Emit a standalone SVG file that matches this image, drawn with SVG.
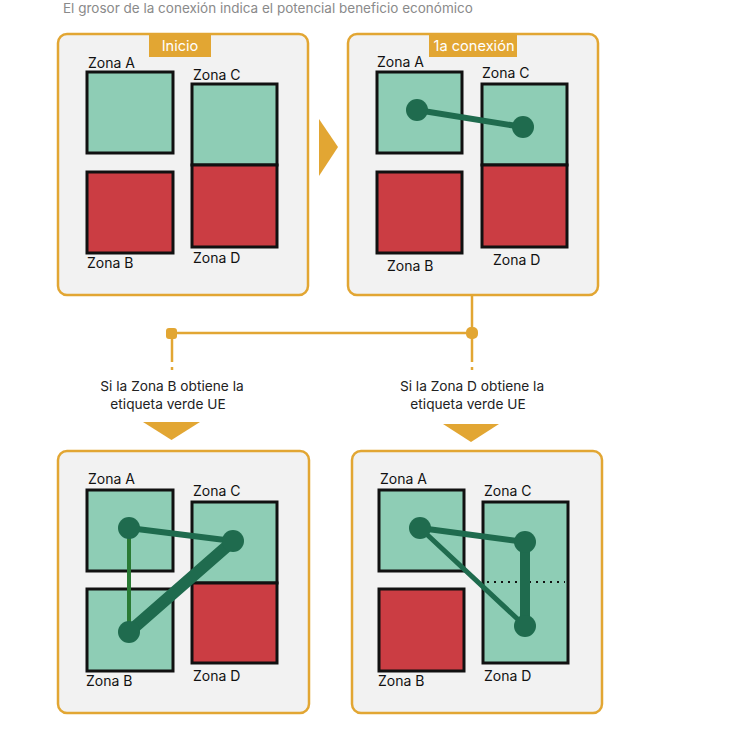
<svg xmlns="http://www.w3.org/2000/svg" width="730" height="730" viewBox="0 0 730 730">
<style>
text{font-family:Inter,"Noto Sans","Liberation Sans",sans-serif}
.title{font-size:13.5px;fill:#8a8a8a}
.panel{fill:#f2f2f2;stroke:#e2a633;stroke-width:2.5}
.tag{fill:#e2a633}
.tagt{font-size:14.6px;fill:#fff;text-anchor:middle}
.g{fill:#8ecdb5;stroke:#111;stroke-width:3}
.r{fill:#cb3d43;stroke:#111;stroke-width:3}
.zl{font-size:14px;fill:#111}
.cap{font-size:13.7px;fill:#222;text-anchor:middle}
.conn{stroke:#1f6b4e;stroke-linecap:round;fill:none}
.nd{fill:#1f6b4e}
.or{stroke:#e2a633;stroke-width:2.5;fill:none}
.orf{fill:#e2a633}
</style>
<rect width="730" height="730" fill="#fff"/>
<text class="title" x="63" y="13">El grosor de la conexión indica el potencial beneficio económico</text>

<g id="panel-inicio">
<rect class="panel" x="58" y="34" width="250" height="261" rx="9"/>
<rect class="tag" x="149" y="34" width="62" height="23"/>
<text class="tagt" x="180" y="51">Inicio</text>
<rect class="g" x="87" y="72" width="86" height="81"/>
<rect class="g" x="192" y="84" width="85" height="81"/>
<rect class="r" x="192" y="165" width="85" height="82"/>
<rect class="r" x="87" y="172" width="86" height="81"/>
<text class="zl" x="88" y="68">Zona A</text>
<text class="zl" x="193" y="80">Zona C</text>
<text class="zl" x="87" y="268">Zona B</text>
<text class="zl" x="193" y="263">Zona D</text>
</g>

<g id="arrow-right">
<polygon class="orf" points="319,119 338,147 319,176"/>
</g>

<g id="panel-1a">
<rect class="panel" x="348" y="34" width="250" height="261" rx="9"/>
<rect class="tag" x="429" y="34" width="88" height="23"/>
<text class="tagt" x="474" y="51">1a conexión</text>
<rect class="g" x="377" y="72" width="85" height="81"/>
<rect class="g" x="482" y="84" width="85" height="81"/>
<rect class="r" x="482" y="165" width="85" height="82"/>
<rect class="r" x="377" y="172" width="85" height="81"/>
<text class="zl" x="377" y="67">Zona A</text>
<text class="zl" x="482" y="78">Zona C</text>
<text class="zl" x="387" y="271">Zona B</text>
<text class="zl" x="493" y="265">Zona D</text>
<line class="conn" x1="417" y1="110" x2="523" y2="127" stroke-width="6"/>
<circle class="nd" cx="417" cy="110" r="11"/>
<circle class="nd" cx="523" cy="127" r="11"/>
</g>

<g id="connectors">
<line class="or" x1="472" y1="295" x2="472" y2="362"/>
<line class="or" x1="472" y1="367" x2="472" y2="370"/>
<line class="or" x1="172" y1="333" x2="472" y2="333"/>
<line class="or" x1="172" y1="333" x2="172" y2="362"/>
<line class="or" x1="172" y1="367" x2="172" y2="370"/>
<rect class="orf" x="166" y="328" width="11" height="11" rx="3"/>
<rect class="orf" x="466" y="327" width="12" height="12" rx="5"/>
</g>

<g id="caption-b">
<text class="cap" x="172" y="391">Si la Zona B obtiene la</text>
<text class="cap" x="168" y="409">etiqueta verde UE</text>
<polygon class="orf" points="143,422 200,422 171.5,440"/>
</g>

<g id="caption-d">
<text class="cap" x="472" y="391">Si la Zona D obtiene la</text>
<text class="cap" x="468" y="409">etiqueta verde UE</text>
<polygon class="orf" points="443,424 499,424 471,442"/>
</g>

<g id="panel-b">
<rect class="panel" x="58" y="451" width="251" height="262" rx="9"/>
<rect class="g" x="87" y="490" width="86" height="81"/>
<rect class="g" x="192" y="502" width="85" height="81"/>
<rect class="r" x="192" y="583" width="85" height="80"/>
<rect class="g" x="87" y="589" width="86" height="82"/>
<text class="zl" x="88" y="484">Zona A</text>
<text class="zl" x="193" y="496">Zona C</text>
<text class="zl" x="86" y="686">Zona B</text>
<text class="zl" x="193" y="681">Zona D</text>
<line class="conn" x1="129" y1="528" x2="233" y2="541" stroke-width="6"/>
<line x1="129" y1="528" x2="129" y2="632" stroke="#2a7a34" stroke-width="4"/>
<line class="conn" x1="129" y1="632" x2="233" y2="541" stroke-width="12"/>
<circle class="nd" cx="129" cy="528" r="11"/>
<circle class="nd" cx="233" cy="541" r="11"/>
<circle class="nd" cx="129" cy="632" r="11"/>
</g>

<g id="panel-d">
<rect class="panel" x="352" y="451" width="250" height="262" rx="9"/>
<rect class="g" x="379" y="490" width="85" height="81"/>
<rect class="g" x="483" y="502" width="85" height="161"/>
<line x1="487" y1="582" x2="565" y2="582" stroke="#111" stroke-width="2" stroke-dasharray="2,5"/>
<rect class="r" x="379" y="589" width="85" height="82"/>
<text class="zl" x="380" y="484">Zona A</text>
<text class="zl" x="484" y="496">Zona C</text>
<text class="zl" x="378" y="686">Zona B</text>
<text class="zl" x="484" y="681">Zona D</text>
<line class="conn" x1="420" y1="528" x2="525" y2="542" stroke-width="6"/>
<line class="conn" x1="420" y1="528" x2="525" y2="626" stroke-width="5"/>
<line class="conn" x1="525" y1="542" x2="525" y2="626" stroke-width="10"/>
<circle class="nd" cx="420" cy="528" r="11"/>
<circle class="nd" cx="525" cy="542" r="11"/>
<circle class="nd" cx="525" cy="626" r="11"/>
</g>
</svg>
